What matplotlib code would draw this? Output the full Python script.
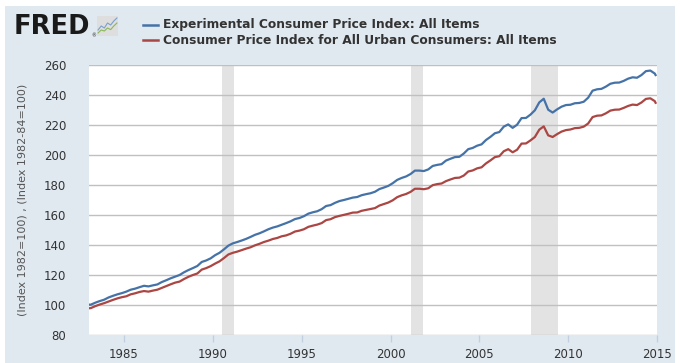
import numpy as np
import matplotlib
matplotlib.use("Agg")
import matplotlib.pyplot as plt
from matplotlib.patches import Rectangle

# Quarterly values 1983Q1..2014Q4, plus Jan 1983 and Dec 2014 end points
cpi_u = [
    97.9, 99.2, 100.3, 101.2,
    102.3, 103.4, 104.4, 105.2,
    105.8, 107.1, 107.8, 108.7,
    109.3, 108.9, 109.6, 110.2,
    111.4, 112.6, 113.8, 114.9,
    115.6, 117.3, 118.8, 120.0,
    121.0, 123.6, 124.6, 125.9,
    127.6, 129.1, 131.3, 133.7,
    134.8, 135.6, 136.6, 137.6,
    138.5, 139.8, 140.8, 142.0,
    142.9, 144.0, 144.7, 145.8,
    146.4, 147.5, 149.0, 149.6,
    150.5, 152.1, 152.9, 153.6,
    154.6, 156.6, 157.2, 158.6,
    159.4, 160.1, 160.8, 161.6,
    161.7, 162.8, 163.4, 164.0,
    164.6, 166.3, 167.3, 168.3,
    169.8, 171.9, 173.1, 174.0,
    175.4, 177.5, 177.5, 177.2,
    177.8, 179.9, 180.6, 181.0,
    182.6, 183.7, 184.7, 184.9,
    186.3, 189.0, 189.7, 191.1,
    191.8, 194.4, 196.4, 198.6,
    199.2, 202.5, 203.9, 201.8,
    203.5, 207.6, 207.7, 209.7,
    212.0, 216.9, 219.1, 213.1,
    212.0, 213.9, 215.6, 216.6,
    217.0, 217.9, 218.1, 218.9,
    221.0, 225.3, 226.2, 226.4,
    227.8, 229.6, 230.2, 230.3,
    231.4, 232.7, 233.6, 233.3,
    235.0, 237.4, 237.8, 235.9,
]
cpi_exp = [
    100.2, 101.5, 102.6, 103.5,
    105.0, 106.1, 107.1, 107.9,
    108.9, 110.2, 110.9, 111.9,
    112.8, 112.4, 113.1, 113.7,
    115.3, 116.5, 117.8, 118.9,
    120.0, 121.8, 123.3, 124.6,
    126.0, 128.7, 129.7, 131.1,
    133.2, 134.8, 137.1, 139.6,
    141.1, 142.0, 143.0, 144.1,
    145.4, 146.8, 147.8, 149.1,
    150.5, 151.6, 152.4, 153.5,
    154.6, 155.8, 157.3, 158.0,
    159.2, 160.9, 161.8, 162.5,
    163.9, 166.0, 166.6, 168.1,
    169.3, 170.0, 170.8, 171.6,
    172.0, 173.2, 173.9, 174.5,
    175.5, 177.3, 178.3, 179.4,
    181.2, 183.4, 184.7, 185.7,
    187.3, 189.6, 189.6, 189.3,
    190.4, 192.7, 193.4, 193.9,
    196.3, 197.5, 198.6, 198.8,
    201.0, 203.9, 204.7, 206.2,
    207.1, 210.0, 212.1, 214.5,
    215.3, 218.9, 220.4, 218.1,
    220.2, 224.6, 224.7, 226.9,
    229.8, 235.1, 237.5, 230.2,
    228.3, 230.4, 232.2, 233.3,
    233.5, 234.5, 234.7, 235.5,
    238.2, 242.9, 243.8, 244.1,
    245.6, 247.5, 248.2, 248.3,
    249.4, 250.9, 251.8, 251.5,
    253.3, 255.9, 256.3, 254.3,
]
start_u, start_exp = 97.8, 100.3      # Jan 1983
end_u, end_exp = 234.8, 253.3         # Dec 2014

rec_start = [1990.5, 2001.17, 2007.92]
rec_end = [1991.17, 2001.83, 2009.42]

series_names = ["Experimental Consumer Price Index: All Items",
                "Consumer Price Index for All Urban Consumers: All Items"]
y_ticks = [80, 100, 120, 140, 160, 180, 200, 220, 240, 260]
x_ticks = [1985, 1990, 1995, 2000, 2005, 2010, 2015]
y_label = "(Index 1982=100) , (Index 1982-84=100)"

n = len(cpi_u)
dates = np.concatenate([[1983.0], 1983.125 + np.arange(n) / 4.0, [2014.92]])
red = np.concatenate([[start_u], cpi_u, [end_u]])
blue = np.concatenate([[start_exp], cpi_exp, [end_exp]])

BG = "#e1e9f0"
BLUE = "#4572a7"
RED = "#aa4643"
TXT = "#333333"

fig = plt.figure(figsize=(6.8, 3.63), dpi=100, facecolor="white")
fig.patches.append(Rectangle((5/680, 0), 670/680, 357/363, transform=fig.transFigure,
                             facecolor=BG, edgecolor="none", zorder=-10))

ax = fig.add_axes([88.5/680, (363-335)/363, 568.5/680, 270/363])
ax.set_facecolor("white")
for s, e in zip(rec_start, rec_end):
    ax.axvspan(s, e, color="#e3e3e3", lw=0, zorder=0)
for yv in y_ticks:
    ax.axhline(yv, color="#c0c0c0", lw=1.0, zorder=1)

ax.plot(dates, red, color=RED, lw=1.6, zorder=3, solid_joinstyle="round")
ax.plot(dates, blue, color=BLUE, lw=1.6, zorder=4, solid_joinstyle="round")

ax.set_xlim(1983.0, 2015.0)
ax.set_ylim(80, 260)
ax.set_yticks(y_ticks)
ax.set_xticks(x_ticks)
for sp in ax.spines.values():
    sp.set_visible(False)
ax.tick_params(axis="y", length=0, pad=16, labelsize=8.5, labelcolor=TXT)
ax.tick_params(axis="x", length=5, width=1, color="#c0d0e0", pad=4,
               labelsize=8.5, labelcolor=TXT)
ax.set_ylabel(y_label, fontsize=8, color="#555555", labelpad=12)

# legend
for i, (name, col) in enumerate(zip(series_names, [BLUE, RED])):
    yy = 1 - (24.5 + 15.5*i)/363
    fig.add_artist(plt.Line2D([143/680, 158/680], [yy, yy], color=col, lw=1.8,
                              transform=fig.transFigure))
    fig.text(163/680, yy, name, fontsize=8.8, fontweight="bold", color=TXT,
             va="center", ha="left")

# FRED logo
fig.text(14/680, 1 - 27/363, "FRED", fontsize=18.5, fontweight="heavy", color="#1a1a1a",
         va="center", ha="left")
fig.text(91.5/680, 1 - 36/363, "®", fontsize=3.5, color="#1a1a1a", va="center", ha="left")
lx = fig.add_axes([97/680, 1 - 36/363, 21/680, 20/363])
lx.set_facecolor("#dedede")
lx.set_xlim(0, 10); lx.set_ylim(0, 10)
lx.plot([0.5, 2, 3.5, 5, 6.5, 8, 9.5], [3, 5, 4, 6.5, 5.5, 7.5, 9], color="#7aa0cc", lw=0.8)
lx.plot([0.5, 2, 3.5, 5, 6.5, 8, 9.5], [1.5, 3, 2.5, 4, 3.2, 5, 6.5], color="#8ab85a", lw=0.8)
lx.set_xticks([]); lx.set_yticks([])
for sp in lx.spines.values():
    sp.set_visible(False)

fig.savefig("out.png", dpi=100, facecolor="white")
